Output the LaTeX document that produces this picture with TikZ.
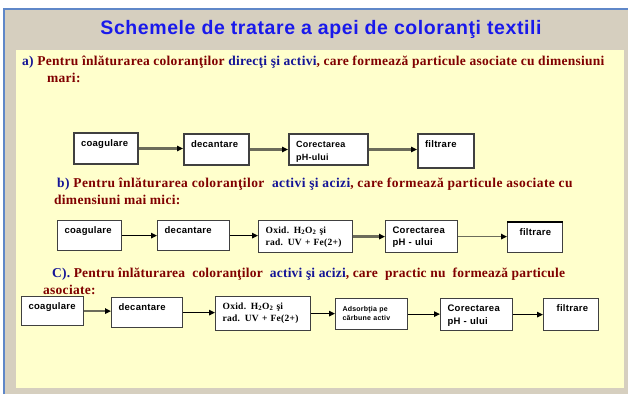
\documentclass[tikz,border=0pt]{standalone}
\usepackage{fontspec}
\setmainfont[LetterSpace=2]{Liberation Serif}
\newfontfamily\boxfont[LetterSpace=3]{Liberation Sans}
\newfontfamily\oxfont[LetterSpace=3]{Liberation Serif}
\newfontfamily\titlefont[LetterSpace=3]{Liberation Sans}
\usetikzlibrary{arrows.meta}
\definecolor{frameblue}{RGB}{95,135,200}
\definecolor{burlap}{RGB}{214,207,191}
\definecolor{paleyel}{RGB}{255,255,204}
\definecolor{titleblue}{RGB}{25,25,235}
\definecolor{darkred}{RGB}{128,0,0}
\definecolor{navyblue}{RGB}{20,20,150}
\definecolor{arrowgray}{RGB}{108,108,90}
\newcommand{\bl}[1]{\textcolor{navyblue}{#1}}

\begin{document}
\begin{tikzpicture}[x=1pt,y=-1pt,
  stepbox/.style={draw=black!75, line width=1.2pt, fill=white, anchor=north west, align=left,
    inner xsep=7pt, inner ysep=3pt, text height=10pt,
    font=\boxfont\bfseries\fontsize{9.5}{12.5}\selectfont},
  bigbox/.style={stepbox, line width=2pt},
  oxbox/.style={stepbox, font=\oxfont\bfseries\fontsize{9.5}{12}\selectfont},
  lead/.style={anchor=base west, inner sep=0pt, text=darkred, font=\bfseries\fontsize{13.5}{15}\selectfont},
  fineline/.style={line width=1pt, -{Triangle[length=6pt,width=5.5pt]}},
  midline/.style={draw=arrowgray, line width=1.6pt, -{Triangle[length=6pt,width=5.5pt,black]}},
  heavyline/.style={draw=arrowgray, line width=2.6pt, -{Triangle[length=6pt,width=5.5pt,black]}}]
\useasboundingbox (0,0) rectangle (628,394);
\fill[white] (0,0) rectangle (628,394);
\fill[burlap] (4,9) rectangle (628,394);
\draw[frameblue, line width=2pt] (4,394) -- (4,9) -- (628,9);
\fill[paleyel] (16,50) rectangle (624,388);

\node[anchor=base, text=titleblue, font=\titlefont\bfseries\fontsize{19.5}{22}\selectfont] (title) at (321,34)
  {Schemele de tratare a apei de coloranţi textili};

\node[lead] (ta) at (22,65) {\bl{a)} Pentru înlăturarea coloranţilor \bl{direcţi şi activi}, care formează particule asociate cu dimensiuni};
\node[lead] (ta2) at (47,82) {mari:};

\node[bigbox, text width=50pt, text depth=15pt] (r1a) at (73,132) {coagulare};
\node[bigbox, text width=51pt, text depth=15pt] (r1b) at (183,133) {decantare};
\node[bigbox, text width=65pt, text depth=15pt, font=\boxfont\bfseries\fontsize{9}{13}\selectfont] (r1c) at (288,133) {Corectarea\\pH-ului};
\node[bigbox, text width=42pt, text depth=18pt] (r1d) at (417,133) {filtrare};
\draw[heavyline] (r1a.east) -- (r1a.east -| r1b.west);
\draw[heavyline] (r1b.east) -- (r1b.east -| r1c.west);
\draw[heavyline] (r1c.east) -- (r1c.east -| r1d.west);

\node[lead] (tb) at (57,187) {\addfontfeature{LetterSpace=3}\bl{b)} Pentru înlăturarea coloranţilor \ \bl{activi şi acizi}, care formează particule asociate cu};
\node[lead] (tb2) at (54,204) {dimensiuni mai mici:};

\node[stepbox, text width=50pt, text depth=14pt] (r2a) at (57,220) {coagulare};
\node[stepbox, text width=58pt, text depth=14pt] (r2b) at (157,220) {decantare};
\node[oxbox, text width=80pt, text depth=16pt] (r2c) at (258,220) {Oxid. H\textsubscript{2}O\textsubscript{2} şi\\rad. UV + Fe(2+)};
\node[stepbox, text width=58pt, text depth=16pt, font=\boxfont\bfseries\fontsize{9.5}{12}\selectfont] (r2d) at (385,220) {Corectarea\\pH - ului};
\node[stepbox, text width=41pt, text depth=14pt] (r2e) at (507,222) {\hspace{5pt}filtrare};
\draw[line width=2pt] (r2e.north west) -- (r2e.north east);
\draw[fineline] (r2a.east) -- (r2a.east -| r2b.west);
\draw[fineline] (r2b.east) -- (r2b.east -| r2c.west);
\draw[heavyline] (r2c.east) -- (r2c.east -| r2d.west);
\draw[midline] (r2d.east) -- (r2d.east -| r2e.west);

\node[lead] (tc) at (52,277) {\addfontfeature{LetterSpace=1.5}\bl{C).} Pentru înlăturarea \ coloranţilor \ \bl{activi şi acizi}, care \ practic nu \ formează particule};
\node[lead] (tc2) at (43,294) {asociate:};

\node[stepbox, text width=48pt, text depth=13pt] (r3a) at (21,296) {coagulare};
\node[stepbox, text width=57pt, text depth=14pt] (r3b) at (111,297) {decantare};
\node[oxbox, text width=81pt, text depth=18pt] (r3c) at (215,296) {Oxid. H\textsubscript{2}O\textsubscript{2} şi\\rad. UV + Fe(2+)};
\node[stepbox, text width=58pt, text depth=15pt, font=\boxfont\bfseries\fontsize{7}{9}\selectfont] (r3d) at (335,298) {Adsorbţia pe\\cărbune activ};
\node[stepbox, text width=58pt, text depth=16pt, font=\boxfont\bfseries\fontsize{9.5}{13}\selectfont] (r3e) at (440,298) {Corectarea\\pH - ului};
\node[stepbox, text width=41pt, text depth=16pt] (r3f) at (543,298) {\hspace{6pt}filtrare};
\draw[heavyline] (r3a.east) -- (r3a.east -| r3b.west);
\draw[fineline] (r3b.east) -- (r3b.east -| r3c.west);
\draw[fineline] (r3c.east) -- (r3c.east -| r3d.west);
\draw[fineline] (r3d.east) -- (r3d.east -| r3e.west);
\draw[fineline] (r3e.east) -- (r3e.east -| r3f.west);
\end{tikzpicture}
\end{document}
